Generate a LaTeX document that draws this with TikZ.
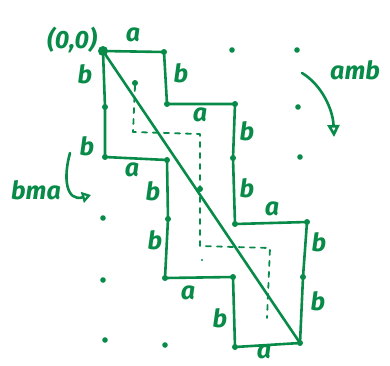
\documentclass[tikz,border=0pt]{standalone}
\usepackage{fontspec}
\setmainfont{Fira Sans}
\usetikzlibrary{arrows.meta}
\definecolor{pen}{RGB}{8,138,72}

\begin{document}
\begin{tikzpicture}[x=1pt,y=-1pt,line cap=round,line join=round,
    pen line/.style={draw=pen,line width=2.6pt},
    dash line/.style={draw=pen,line width=1.8pt,dash pattern=on 5pt off 6pt},
    lab/.style={text=pen,font=\fontsize{25}{27}\selectfont\itshape\bfseries,inner sep=0pt},
    dot/.style={fill=pen}]
  \useasboundingbox (0,0) rectangle (390,365);
  %
  \draw[pen line] (103,51) -- (164,52) -- (167,104) -- (235,104) -- (233,158)
    -- (235,224) -- (307,222) -- (303,277) -- (300,343) -- (235,347)
    -- (233,277) -- (165,278) -- (168,219) -- (167,160) -- (105,157)
    -- (105,107) -- cycle;
  \draw[pen line] (103,51) -- (300,343);
  %
  \draw[dash line] (135,86) -- (133,132) -- (200,134) -- (200,246) -- (270,248) -- (267,318);
  %
  \fill[dot] (103,51) circle (5);
  \foreach \p in {(164,52),(167,104),(235,104),(233,158),(235,224),(307,222),
                  (303,277),(300,343),(235,347),(233,277),(165,278),(168,219),
                  (167,160),(105,157),(105,107),(135,83),(200,189)}
    \fill[dot] \p circle (3);
  \foreach \p in {(232,50),(297,50),(298,107),(300,157),
                  (103,218),(103,280),(105,340),(165,345)}
    \fill[dot] \p circle (2.8);
  \fill[dot] (202,260) circle (1.2);
  %
  \node[lab] (origin) at (72,40) {(0,0)};
  \node[lab] (a1) at (133,35) {a};
  \node[lab] (b1) at (85,74) {b};
  \node[lab] (b2) at (87,146) {b};
  \node[lab] (b3) at (181,73) {b};
  \node[lab] (a2) at (200,115) {a};
  \node[lab] (b4) at (247,131) {b};
  \node[lab] (b5) at (247,188) {b};
  \node[lab] (a3) at (272,209) {a};
  \node[lab] (b6) at (319,242) {b};
  \node[lab] (b7) at (318,301) {b};
  \node[lab] (a4) at (264,352) {a};
  \node[lab] (b8) at (220,318) {b};
  \node[lab] (a5) at (188,293) {a};
  \node[lab] (b9) at (155,240) {b};
  \node[lab] (b10) at (153,191) {b};
  \node[lab] (a6) at (132,170) {a};
  %
  \node[lab] (amb) at (355,70) {amb};
  \node[lab] (bma) at (36,190) {bma};
  \draw[pen line,-{Triangle[open,length=12pt,width=12pt]}]
    (302,73) .. controls (322,85) and (333,110) .. (334,137);
  \draw[pen line,-{Triangle[open,length=9pt,width=11pt]}]
    (70,153) .. controls (63,178) and (66,202) .. (91,195);
  %
\end{tikzpicture}
\end{document}
